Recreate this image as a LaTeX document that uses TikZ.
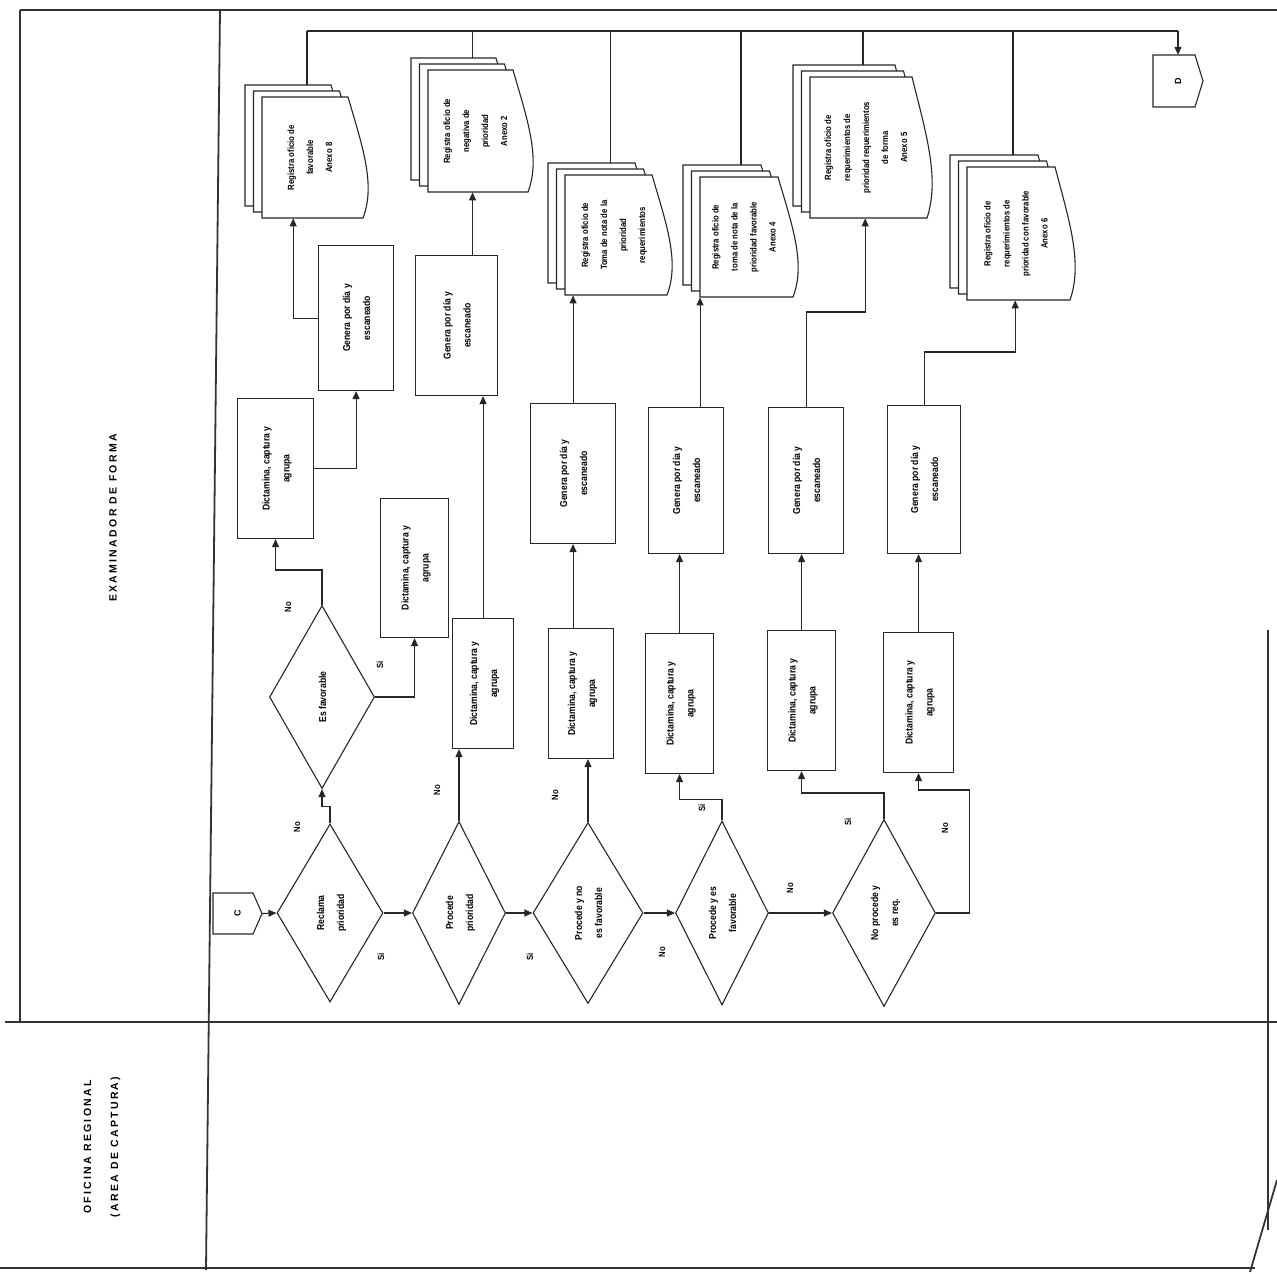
\documentclass[tikz,border=0pt]{standalone}
\usepackage{fontspec}
\setmainfont{Liberation Sans}
\newfontfamily\lanefont[LetterSpace=22]{Liberation Sans}
\newfontfamily\boxfont[FakeStretch=0.86]{Liberation Sans}
\usetikzlibrary{arrows.meta,shapes.geometric}

\newcommand\rtx[1]{\rotatebox{90}{\begin{tabular}{@{}c@{}}#1\end{tabular}}}

\tikzset{
  ln/.style={draw=black!85, line width=1.1pt},
  frame/.style={draw=black!80, line width=1.8pt},
  arr/.style={ln, -{Triangle[length=8pt,width=7pt]}},
  box/.style={ln, fill=white, inner sep=0pt, font=\boxfont\fontsize{10}{20}\selectfont\bfseries},
  dia/.style={ln, diamond, aspect=0.6, inner sep=0pt, font=\boxfont\fontsize{10}{20}\selectfont\bfseries},
  docpage/.style={ln, fill=white},
  doctext/.style={inner sep=0pt, font=\boxfont\fontsize{9}{19}\selectfont\bfseries},
  lbl/.style={rotate=90, inner sep=0pt, font=\boxfont\fontsize{9}{10}\selectfont\bfseries},
  lane/.style={rotate=90, inner sep=0pt, align=center, font=\fontsize{10.5}{27}\selectfont\lanefont\bfseries},
}

\newcommand\bx[6]{%
  \node[box, anchor=north west, minimum width={#4-#2}, minimum height={#5-#3}] (#1) at (#2,#3) {\rtx{#6}};%
}

\newcommand\docstack[6]{%
  \foreach \k in {2,1}{%
    \path[docpage, shift={(-8.5*\k,-6*\k)}] (#2,#3) -- ({#4-20},#3)
      .. controls ({#4-6},{#3+0.4*(#5-#3)}) and ({#4+8},{#3+0.72*(#5-#3)}) .. ({#4-5},#5) -- (#2,#5) -- cycle;
  }%
  \path[docpage] (#2,#3) -- ({#4-20},#3)
      .. controls ({#4-6},{#3+0.4*(#5-#3)}) and ({#4+8},{#3+0.72*(#5-#3)}) .. ({#4-5},#5) -- (#2,#5) -- cycle;
  \node[doctext, anchor=north west, minimum width={#4-#2-12}, minimum height={#5-#3}] (#1) at (#2,#3) {\rtx{#6}};%
  \coordinate (#1-top) at ({(#2+#4)/2-8},{#3-12});%
}

\begin{document}
\begin{tikzpicture}[x=1pt,y=-1pt]
\useasboundingbox (0,0) rectangle (1277,1274);

% frame
\draw[frame] (20,10) -- (1277,10);
\draw[frame] (20,10) -- (20,1022);
\draw[frame] (220,10) -- (206,1270);
\draw[frame] (5,1022) -- (1277,1022);
\draw[frame] (0,1268) -- (1255,1268);
\draw[frame] (1268,630) -- (1268,1230);
\draw[frame] (1250,1272) -- (1277,1180);

% lane titles
\node[lane] (lane1) at (113,518) {EXAMINADOR DE FORMA};
\node[lane] (lane2) at (102,1147) {OFICINA REGIONAL\\(AREA DE CAPTURA)};

% bus and drops (drawn first)
\coordinate (busL) at (307,31);
\coordinate (busR) at (1178,31);
\draw[ln] (busL) -- (busR);

% documents
\docstack{doc1}{262}{97}{368}{218}{Registra oficio de\\favorable\\Anexo 8}
\docstack{doc2}{428}{70}{533}{192}{Registra oficio de\\negativa de\\prioridad\\Anexo 2}
\docstack{doc3}{565}{175}{672}{295}{Registra oficio de\\Toma de nota de la\\prioridad\\requerimientos}
\docstack{doc4}{700}{177}{798}{297}{Registra oficio de\\toma de nota de la\\prioridad favorable\\Anexo 4}
\docstack{doc5}{810}{77}{932}{218}{Registra oficio de\\requerimientos de\\prioridad requerimientos\\de forma\\Anexo 5}
\docstack{doc6}{967}{167}{1075}{300}{Registra oficio de\\requerimientos de\\prioridad con favorable\\Anexo 6}

\foreach \d in {doc1,doc2,doc3,doc4,doc5,doc6}{
  \draw[ln] (\d-top |- busL) -- (\d-top);
}

% connectors
\draw[ln] (213,893) -- (253,893) -- (262,913.5) -- (253,934) -- (213,934) -- cycle;
\node[inner sep=0pt, minimum width=49, minimum height=41, font=\fontsize{9}{10}\selectfont\bfseries] (S) at (237.5,913.5) {\rotatebox{90}{C}};
\draw[ln] (1153,55) -- (1195,55) -- (1203,81) -- (1195,107) -- (1153,107) -- cycle;
\node[inner sep=0pt, minimum width=50, minimum height=52, font=\fontsize{9}{10}\selectfont\bfseries] (E) at (1178,81) {\rotatebox{90}{D}};
\draw[arr] (busR) -- (E.north);

% diamonds
\node[dia, minimum width=106, minimum height=178] (D1) at (330,913) {\rtx{Reclama\\prioridad}};
\node[dia, minimum width=105, minimum height=183] (EF) at (322,697) {\rtx{Es favorable}};
\node[dia, minimum width=93,  minimum height=183] (D2) at (459,913) {\rtx{Procede\\prioridad}};
\node[dia, minimum width=110, minimum height=181] (D3) at (588,913) {\rtx{Procede y no\\es favorable}};
\node[dia, minimum width=93,  minimum height=184] (D4) at (722,913) {\rtx{Procede y es\\favorable}};
\node[dia, minimum width=103, minimum height=187] (D5) at (884,913) {\rtx{No procede y\\es req.}};

% boxes
\bx{A1}{237}{398}{313}{538}{Dictamina, captura y\\agrupa}
\bx{B1}{380}{498}{448}{637}{Dictamina, captura y\\agrupa}
\bx{G1}{318}{245}{393}{390}{Genera por día y\\escaneado}
\bx{G2}{415}{255}{497}{395}{Genera por día y\\escaneado}
\bx{B2}{452}{618}{513}{748}{Dictamina, captura y\\agrupa}
\bx{B3}{548}{628}{613}{758}{Dictamina, captura y\\agrupa}
\bx{G3}{530}{403}{615}{543}{Genera por día y\\escaneado}
\bx{B4}{645}{633}{713}{773}{Dictamina, captura y\\agrupa}
\bx{G4}{648}{407}{723}{553}{Genera por día y\\escaneado}
\bx{B5}{767}{630}{835}{770}{Dictamina, captura y\\agrupa}
\bx{G5}{768}{407}{843}{553}{Genera por día y\\escaneado}
\bx{B6}{883}{632}{953}{772}{Dictamina, captura y\\agrupa}
\bx{G6}{887}{405}{960}{553}{Genera por día y\\escaneado}

% main flow
\draw[arr] (S.east) -- (D1.west);
\draw[arr] (D1.east) -- (D2.west);
\draw[arr] (D2.east) -- (D3.west);
\draw[arr] (D3.east) -- (D4.west);
\draw[arr] (D4.east) -- (D5.west);

% branch 1
\draw[arr] (D1.north) -- ++(0,-17) -| (EF.south);
\draw[arr] (EF.north) -- ++(0,-35) -| (A1.south);
\draw[arr] (EF.east) -| (B1.south);
\draw[arr] (A1.east) -| (G1.south);
\draw[arr] (G1.west) -| ([xshift=-16pt]doc1.south);

% branch 2
\draw[arr] (D2.north) -- (D2.north |- B2.south);
\draw[arr] (B2.north) -- (B2.north |- G2.south);
\draw[arr] ([xshift=16pt]G2.north) -- ([xshift=16pt]G2.north |- doc2.south);

% branch 3
\draw[arr] (D3.north) -- (D3.north |- B3.south);
\draw[arr] (B3.north -| G3.south) -- (G3.south);
\draw[arr] (G3.north) -- (G3.north |- doc3.south);

% branch 4
\draw[arr] (D4.north) -- ++(0,-21) -| (B4.south);
\draw[arr] (B4.north) -- (B4.north |- G4.south);
\draw[arr] ([xshift=14pt]G4.north) -- ([xshift=14pt]G4.north |- doc4.south);

% branch 5
\draw[arr] (D5.north) -- ++(0,-26) -| (B5.south);
\draw[arr] (B5.north) -- (B5.north |- G5.south);
\draw[arr] (G5.north) -- ++(0,-95) -| (doc5.south);

% branch 6
\draw[arr] (D5.east) -- ++(33,0) -- ++(0,-123) -| (B6.south);
\draw[arr] (B6.north) -- (B6.north |- G6.south);
\draw[arr] (G6.north) -- ++(0,-53) -| (doc6.south);

% labels
\node[lbl] (l1) at (297,827) {No};
\node[lbl] (l2) at (381,957) {Si};
\node[lbl] (l3) at (437,790) {No};
\node[lbl] (l4) at (530,957) {Si};
\node[lbl] (l5) at (555,795) {No};
\node[lbl] (l6) at (662,952) {No};
\node[lbl] (l7) at (702,808) {Si};
\node[lbl] (l8) at (790,888) {No};
\node[lbl] (l9) at (848,822) {Si};
\node[lbl] (l10) at (945,828) {No};
\node[lbl] (l11) at (288,607) {No};
\node[lbl] (l12) at (380,665) {Si};
\end{tikzpicture}
\end{document}
